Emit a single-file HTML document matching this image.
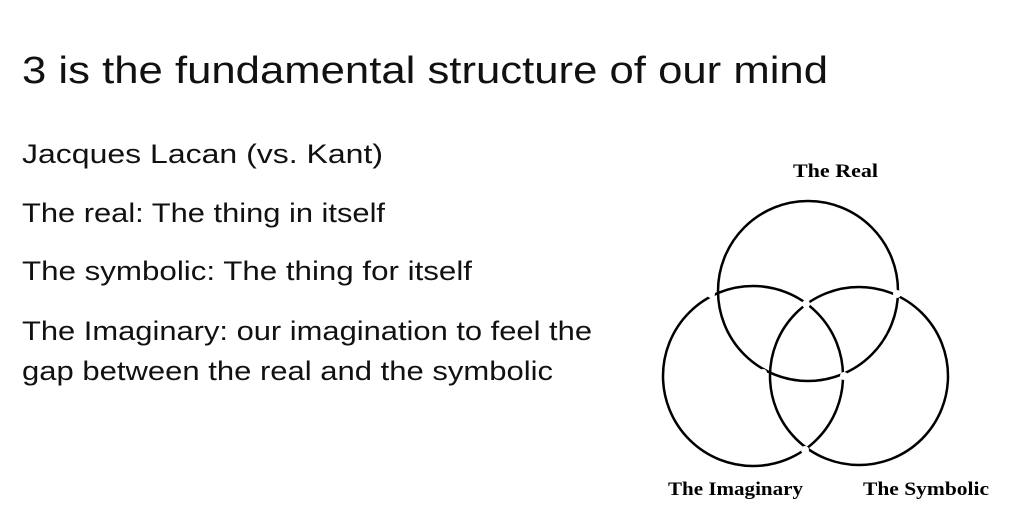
<!DOCTYPE html>
<html><head><meta charset="utf-8"><style>
html,body{margin:0;padding:0;background:#fff;}
svg{display:block;}
</style></head><body>
<svg width="1024" height="530" viewBox="0 0 1024 530" xmlns="http://www.w3.org/2000/svg">
<g font-family="'Liberation Sans', sans-serif" fill="#111">
<text x="22" y="83" font-size="38" textLength="806" lengthAdjust="spacingAndGlyphs">3 is the fundamental structure of our mind</text>
<text x="22" y="163" font-size="27" textLength="361" lengthAdjust="spacingAndGlyphs">Jacques Lacan (vs. Kant)</text>
<text x="22" y="222" font-size="27" textLength="363" lengthAdjust="spacingAndGlyphs">The real: The thing in itself</text>
<text x="22" y="280" font-size="27" textLength="450" lengthAdjust="spacingAndGlyphs">The symbolic: The thing for itself</text>
<text x="22" y="340" font-size="27" textLength="570" lengthAdjust="spacingAndGlyphs">The Imaginary: our imagination to feel the</text>
<text x="22" y="380" font-size="27" textLength="531" lengthAdjust="spacingAndGlyphs">gap between the real and the symbolic</text>
</g>
<g fill="none" stroke="#000" stroke-width="2.5">
<circle cx="808" cy="291" r="90"/>
<circle cx="753" cy="376" r="90"/>
<circle cx="859" cy="376" r="89"/>
</g>
<g fill="#fff">
<circle cx="711" cy="294" r="4"/>
<circle cx="897" cy="294" r="4"/>
<circle cx="806" cy="304" r="4"/>
<circle cx="763" cy="373" r="4"/>
<circle cx="844" cy="376" r="4"/>
<circle cx="805" cy="450" r="4"/>
</g>
<g font-family="'Liberation Serif', serif" font-weight="bold" fill="#000" font-size="19">
<text x="793" y="177" textLength="85" lengthAdjust="spacingAndGlyphs">The Real</text>
<text x="668" y="495" textLength="135" lengthAdjust="spacingAndGlyphs">The Imaginary</text>
<text x="863" y="495" textLength="126" lengthAdjust="spacingAndGlyphs">The Symbolic</text>
</g>
</svg>
</body></html>
